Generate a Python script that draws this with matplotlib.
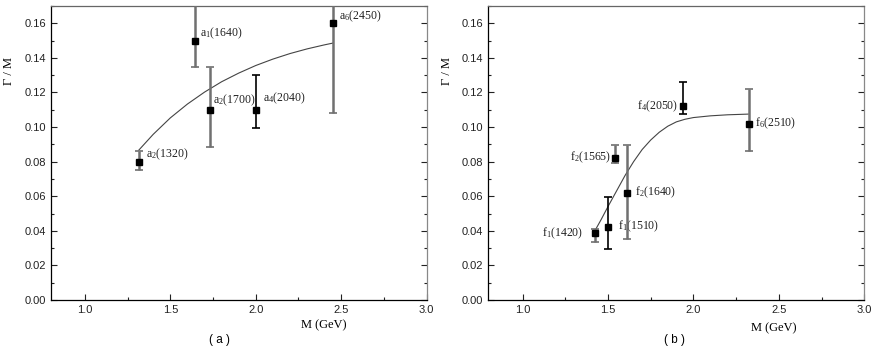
import numpy as np
import matplotlib.pyplot as plt
from matplotlib.ticker import MultipleLocator

plt.rcParams['mathtext.fontset'] = 'custom'
plt.rcParams['mathtext.rm'] = 'Liberation Serif'
plt.rcParams['mathtext.it'] = 'Liberation Serif:italic'

# panel (a): a-mesons
a_names = [r'a$_2$(1320)', r'a$_1$(1640)', r'a$_2$(1700)', r'a$_4$(2040)', r'a$_6$(2450)']
a_mass = [1.318, 1.644, 1.731, 2.0, 2.45]
a_ratio = [0.080, 0.150, 0.110, 0.110, 0.160]
a_err_lo = [0.005, 0.015, 0.0215, 0.0105, 0.052]
a_err_hi = [0.006, 0.030, 0.025, 0.020, 0.052]
# fitted curve
a_fit_m = [1.316, 1.40, 1.50, 1.60, 1.70, 1.80, 1.90, 2.00, 2.10, 2.20, 2.30, 2.40, 2.453]
a_fit_r = [0.0867, 0.0958, 0.1053, 0.1133, 0.1202, 0.1262, 0.1312, 0.1356,
           0.1393, 0.1425, 0.1452, 0.1475, 0.1486]

# panel (b): f-mesons
f_names = [r'f$_1$(1420)', r'f$_1$(1510)', r'f$_2$(1565)', r'f$_2$(1640)', r'f$_4$(2050)', r'f$_6$(2510)']
f_mass = [1.425, 1.501, 1.542, 1.609, 1.937, 2.323]
f_ratio = [0.039, 0.042, 0.0823, 0.062, 0.1121, 0.1019]
f_err_lo = [0.0055, 0.0123, 0.003, 0.027, 0.0045, 0.0155]
f_err_hi = [0.002, 0.0177, 0.0075, 0.0276, 0.0141, 0.020]
f_fit_m = [1.429, 1.46, 1.50, 1.55, 1.60, 1.65, 1.70, 1.75, 1.80, 1.85, 1.90,
           1.95, 2.00, 2.10, 2.20, 2.321]
f_fit_r = [0.0410, 0.0465, 0.0540, 0.0630, 0.0720, 0.0800, 0.0870, 0.0925, 0.0970,
           0.1005, 0.1030, 0.1045, 0.1055, 0.1065, 0.1071, 0.1075]

GREY = '#707070'
a_bar_col = [GREY, GREY, GREY, 'black', GREY]
f_bar_col = [GREY, 'black', GREY, GREY, 'black', GREY]
# label offsets in points (negative dx -> label on the left)
a_label_dx = [4.6, 3.6, 2.0, 5.4, 4.5]
a_label_dy = [5.5, 5.3, 7.0, 8.0, 5.3]
f_label_dx = [-8.3, 7.0, -3.0, 6.0, -3.0, 4.8]
f_label_dy = [-0.5, 0.5, 0, 0, 0, 0]


def draw_panel(ax, names, mass, ratio, lo, hi, fit_m, fit_r, cols, dxs, dys, tag, xl_pos):
    ax.plot(fit_m, fit_r, color='#444444', lw=0.8, zorder=2)
    for i in range(len(mass)):
        ax.errorbar(mass[i], ratio[i], yerr=[[lo[i]], [hi[i]]], fmt='none',
                    ecolor=cols[i], elinewidth=1.8 if cols[i] != 'black' else 1.2,
                    capsize=3, capthick=1.2, zorder=3)
        ax.plot(mass[i], ratio[i], 's', color='black', ms=5, zorder=4)
        ax.annotate(names[i], (mass[i], ratio[i]), xytext=(dxs[i], dys[i]),
                    textcoords='offset points',
                    ha='left' if dxs[i] > 0 else 'right', va='center',
                    fontsize=8.5, family='Liberation Serif', color='#222222')

    ax.set_xlim(0.8, 3.0)
    ax.set_ylim(0.0, 0.17)
    ax.xaxis.set_major_locator(MultipleLocator(0.5))
    ax.xaxis.set_minor_locator(MultipleLocator(0.25))
    ax.yaxis.set_major_locator(MultipleLocator(0.02))
    ax.yaxis.set_minor_locator(MultipleLocator(0.01))
    ax.xaxis.set_major_formatter(plt.FormatStrFormatter('%.1f'))
    ax.yaxis.set_major_formatter(plt.FormatStrFormatter('%.2f'))
    ax.tick_params(which='both', direction='in', right=True, top=False,
                   labelsize=8, colors='#222222', width=0.8)
    ax.tick_params(which='major', length=4)
    ax.tick_params(which='minor', length=2.5)
    for lab in ax.get_xticklabels() + ax.get_yticklabels():
        lab.set_family('Liberation Sans')
    for s in ax.spines.values():
        s.set_linewidth(0.9)
    ax.spines['top'].set_color('#666666')
    ax.spines['right'].set_color('#888888')

    ax.set_ylabel('\u0393 / M', family='Liberation Serif', fontsize=9)
    ax.yaxis.set_label_coords(-0.094, 0.78)
    ax.text(xl_pos[0], xl_pos[1], 'M (GeV)', transform=ax.transAxes, ha='center', va='center',
            family='Liberation Serif', fontsize=9)
    ax.text(xl_pos[2], -0.136, '( %s )' % tag, transform=ax.transAxes, ha='center', va='center',
            family='Liberation Sans', fontsize=8.5)


fig = plt.figure(figsize=(8.72, 3.48), dpi=100)
ax1 = fig.add_axes([0.0581, 0.1379, 0.4312, 0.8448])
ax2 = fig.add_axes([0.56, 0.1379, 0.4312, 0.8448])

draw_panel(ax1, a_names, a_mass, a_ratio, a_err_lo, a_err_hi, a_fit_m, a_fit_r,
           a_bar_col, a_label_dx, a_label_dy, 'a', (0.726, -0.085, 0.45))
draw_panel(ax2, f_names, f_mass, f_ratio, f_err_lo, f_err_hi, f_fit_m, f_fit_r,
           f_bar_col, f_label_dx, f_label_dy, 'b', (0.76, -0.095, 0.495))

fig.savefig('out.png', dpi=100)
